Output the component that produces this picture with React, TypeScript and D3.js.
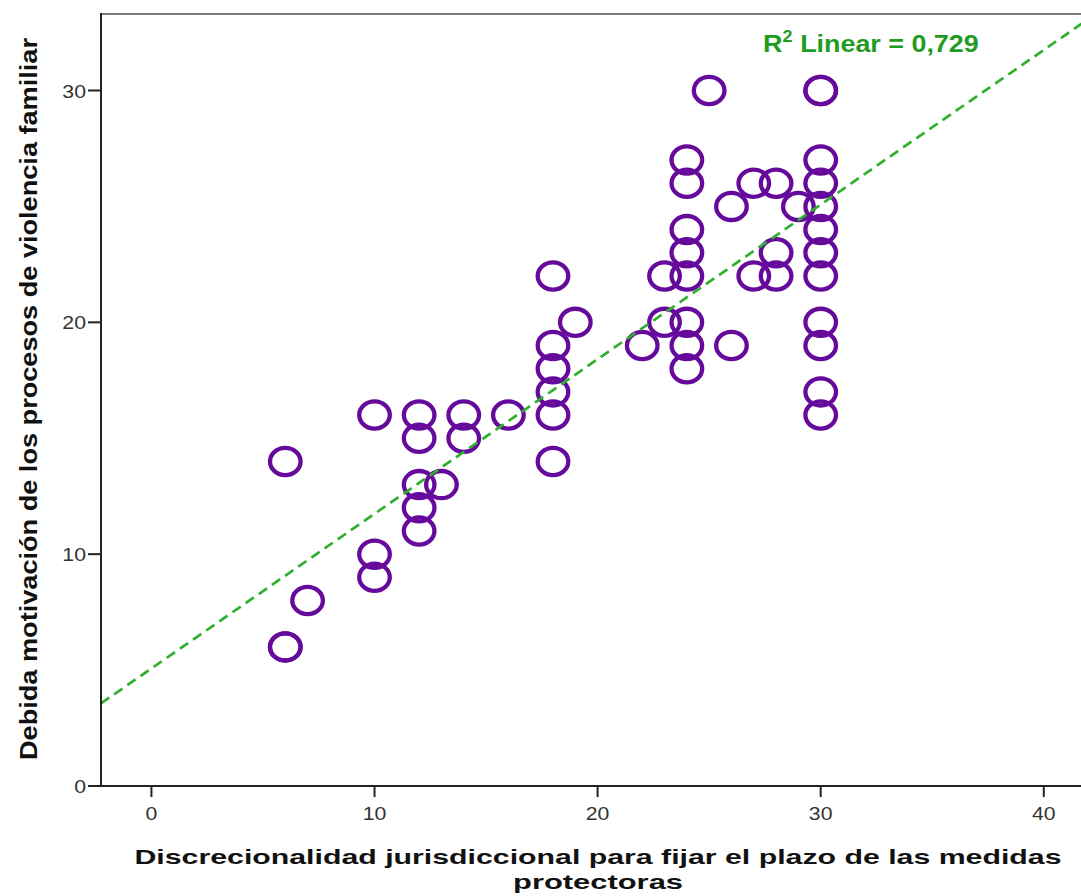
import React from "react";
import * as d3 from "d3";

// Data
const xValues = [6, 6, 6, 7, 10, 10, 10, 12, 12, 12, 12, 12, 13, 14, 14, 16, 18, 18, 18, 18, 18, 18, 19, 22, 23, 23, 24, 24, 24, 24, 24, 24, 24, 24, 25, 26, 26, 27, 27, 28, 28, 28, 29, 30, 30, 30, 30, 30, 30, 30, 30, 30, 30, 30, 30];
const yValues = [14, 6, 6, 8, 16, 10, 9, 16, 15, 13, 12, 11, 13, 16, 15, 16, 22, 19, 18, 17, 16, 14, 20, 19, 22, 20, 27, 26, 24, 23, 22, 20, 19, 18, 30, 25, 19, 26, 22, 26, 23, 22, 25, 30, 30, 27, 26, 25, 24, 23, 22, 20, 19, 17, 16];
const xTicks = [0, 10, 20, 30, 40];
const yTicks = [0, 10, 20, 30];
const fitIntercept = 5.07;
const fitSlope = 0.667;
const r2Label = "0,729";
const xTitleLines = ["Discrecionalidad jurisdiccional para fijar el plazo de las medidas", "protectoras"];
const yTitle = "Debida motivación de los procesos de violencia familiar";

const W = 1081;
const H = 896;
const left = 101;
const top = 14;
const bottom = 786;
const right = 1094;
const FONT = "'Liberation Sans', Arial, sans-serif";
const PURPLE = "#660a9c";
const GREEN = "#2eb02e";
const GREEN_TEXT = "#1f9c1f";

export default function App() {
  const x = d3.scaleLinear().domain([-2.26, 42.25]).range([left, right]);
  const y = d3.scaleLinear().domain([0, 33.3]).range([bottom, top]);
  const [x0, x1] = x.domain();
  const line = d3
    .line<number>()
    .x((d) => x(d))
    .y((d) => y(fitIntercept + fitSlope * d));

  return (
    <svg
      width={W}
      height={H}
      style={{ position: "absolute", left: 0, top: 0, background: "#fff" }}
      fontFamily={FONT}
    >
      <defs>
        <clipPath id="plotclip">
          <rect x={left} y={top} width={right - left} height={bottom - top} />
        </clipPath>
      </defs>
      {/* frame */}
      <line x1={left} x2={right} y1={top} y2={top} stroke="#7a7a7a" strokeWidth={2} />
      <line x1={right} x2={right} y1={top} y2={bottom} stroke="#7a7a7a" strokeWidth={2} />

      {/* points */}
      <g clipPath="url(#plotclip)">
        {xValues.map((xv, i) => (
          <ellipse
            key={i}
            cx={x(xv)}
            cy={y(yValues[i])}
            rx={15.3}
            ry={13.6}
            fill="none"
            stroke={PURPLE}
            strokeWidth={4.3}
          />
        ))}
        <path
          d={line([x0, x1]) || ""}
          fill="none"
          stroke={GREEN}
          strokeWidth={2.7}
          strokeDasharray="10,6"
        />
      </g>

      {/* axes */}
      <line x1={left} x2={left} y1={top - 1} y2={bottom + 1} stroke="#222" strokeWidth={2} />
      <line x1={left - 1} x2={right} y1={bottom} y2={bottom} stroke="#222" strokeWidth={2} />
      {yTicks.map((t) => (
        <g key={"y" + t}>
          <line x1={left - 13} x2={left} y1={y(t)} y2={y(t)} stroke="#222" strokeWidth={2} />
          <text
            x={left - 15}
            y={y(t) + 7}
            textAnchor="end"
            fontSize={19}
            fill="#333"
            transform={`translate(${left - 15},0) scale(1.12,1) translate(${-(left - 15)},0)`}
          >
            {t}
          </text>
        </g>
      ))}
      {xTicks.map((t) => (
        <g key={"x" + t}>
          <line x1={x(t)} x2={x(t)} y1={bottom} y2={bottom + 11} stroke="#222" strokeWidth={2} />
          <text
            x={x(t)}
            y={bottom + 34}
            textAnchor="middle"
            fontSize={19}
            fill="#333"
            transform={`translate(${x(t)},0) scale(1.12,1) translate(${-x(t)},0)`}
          >
            {t}
          </text>
        </g>
      ))}

      {/* R2 label */}
      <g transform="translate(763,52) scale(1.12,1)">
        <text x={0} y={0} fontSize={24} fontWeight="bold" fill={GREEN_TEXT}>
          R
          <tspan fontSize={16} dy={-10}>2</tspan>
          <tspan dy={10} dx={7}>{"Linear = " + r2Label}</tspan>
        </text>
      </g>

      {/* axis titles */}
      <text
        x={598}
        y={864}
        textAnchor="middle"
        fontSize={21}
        fontWeight="bold"
        fill="#111"
        textLength={927}
        lengthAdjust="spacingAndGlyphs"
      >
        {xTitleLines[0]}
      </text>
      <text
        x={598}
        y={889}
        textAnchor="middle"
        fontSize={21}
        fontWeight="bold"
        fill="#111"
        textLength={170}
        lengthAdjust="spacingAndGlyphs"
      >
        {xTitleLines[1]}
      </text>
      <text
        transform="translate(37,399) rotate(-90)"
        textAnchor="middle"
        fontSize={23}
        fontWeight="bold"
        fill="#111"
        textLength={722}
        lengthAdjust="spacingAndGlyphs"
      >
        {yTitle}
      </text>
    </svg>
  );
}
